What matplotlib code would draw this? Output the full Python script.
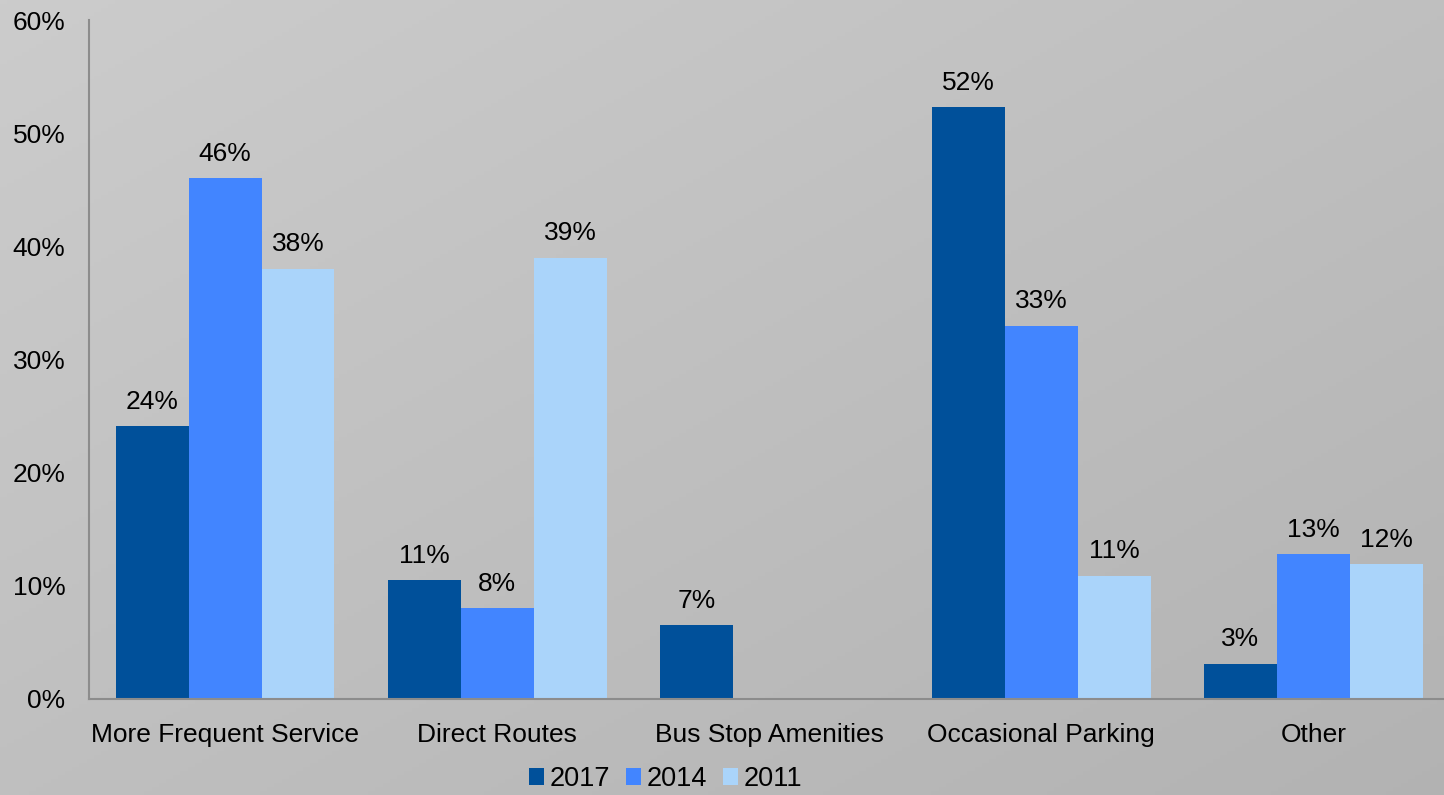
import numpy as np
import matplotlib
matplotlib.use("Agg")
from matplotlib import pyplot as plt

plt.rcParams['font.family'] = ['Liberation Sans', 'DejaVu Sans']

CATEGORIES = ["More Frequent Service", "Direct Routes", "Bus Stop Amenities",
              "Occasional Parking", "Other"]
YEARS = ["2017", "2014", "2011"]
VALUES_2017 = [24.1, 10.5, 6.5, 52.3, 3.1]
VALUES_2014 = [46.0, 8.0, np.nan, 33.0, 12.8]
VALUES_2011 = [38.0, 39.0, np.nan, 10.9, 11.9]
LABELS_2017 = ["24%", "11%", "7%", "52%", "3%"]
LABELS_2014 = ["46%", "8%", "", "33%", "13%"]
LABELS_2011 = ["38%", "39%", "", "11%", "12%"]
COLORS = ["#00509A", "#4285FF", "#AAD4FA"]

fig = plt.figure(figsize=(14.44, 7.95), dpi=100)

# light grey diagonal gradient behind everything
bg = fig.add_axes([0, 0, 1, 1], zorder=-1)
xx, yy = np.meshgrid(np.linspace(0, 1, 200), np.linspace(0, 1, 200))
shade = 0.80 - 0.05 * xx - 0.05 * yy
bg.imshow(np.dstack([shade, shade, shade]), aspect='auto', extent=[0, 1, 0, 1])
bg.axis('off')

ax = fig.add_axes([89 / 1444, 1 - 699 / 795, 1 - 89 / 1444, (699 - 20) / 795])
ax.patch.set_alpha(0)

x = np.arange(len(CATEGORIES))
width = 0.268
series = [(VALUES_2017, LABELS_2017), (VALUES_2014, LABELS_2014), (VALUES_2011, LABELS_2011)]
for i, (vals, labs) in enumerate(series):
    bars = ax.bar(x + (i - 1) * width, vals, width, color=COLORS[i], label=YEARS[i])
    ax.bar_label(bars, labels=labs, padding=9, fontsize=19)

ax.set_xlim(-0.5, 4.48)
ax.set_ylim(0, 60)
ax.set_yticks(range(0, 61, 10))
ax.set_yticklabels([f"{t}%" for t in range(0, 61, 10)], fontsize=19)
ax.set_xticks(x)
ax.set_xticklabels(CATEGORIES, fontsize=19)
ax.tick_params(axis='y', length=0, pad=17)
ax.tick_params(axis='x', length=0, pad=17)
for side in ['top', 'right']:
    ax.spines[side].set_visible(False)
for side in ['left', 'bottom']:
    ax.spines[side].set_color('#8c8c8c')
    ax.spines[side].set_linewidth(1.5)

fig.legend(loc='center left', bbox_to_anchor=(518 / 1444, 1 - 779 / 795), ncol=3,
           frameon=False, fontsize=19.5, handlelength=0.55, handleheight=0.55,
           handletextpad=0.2, columnspacing=0.6, borderaxespad=0)

fig.savefig("out.png", dpi=100)
